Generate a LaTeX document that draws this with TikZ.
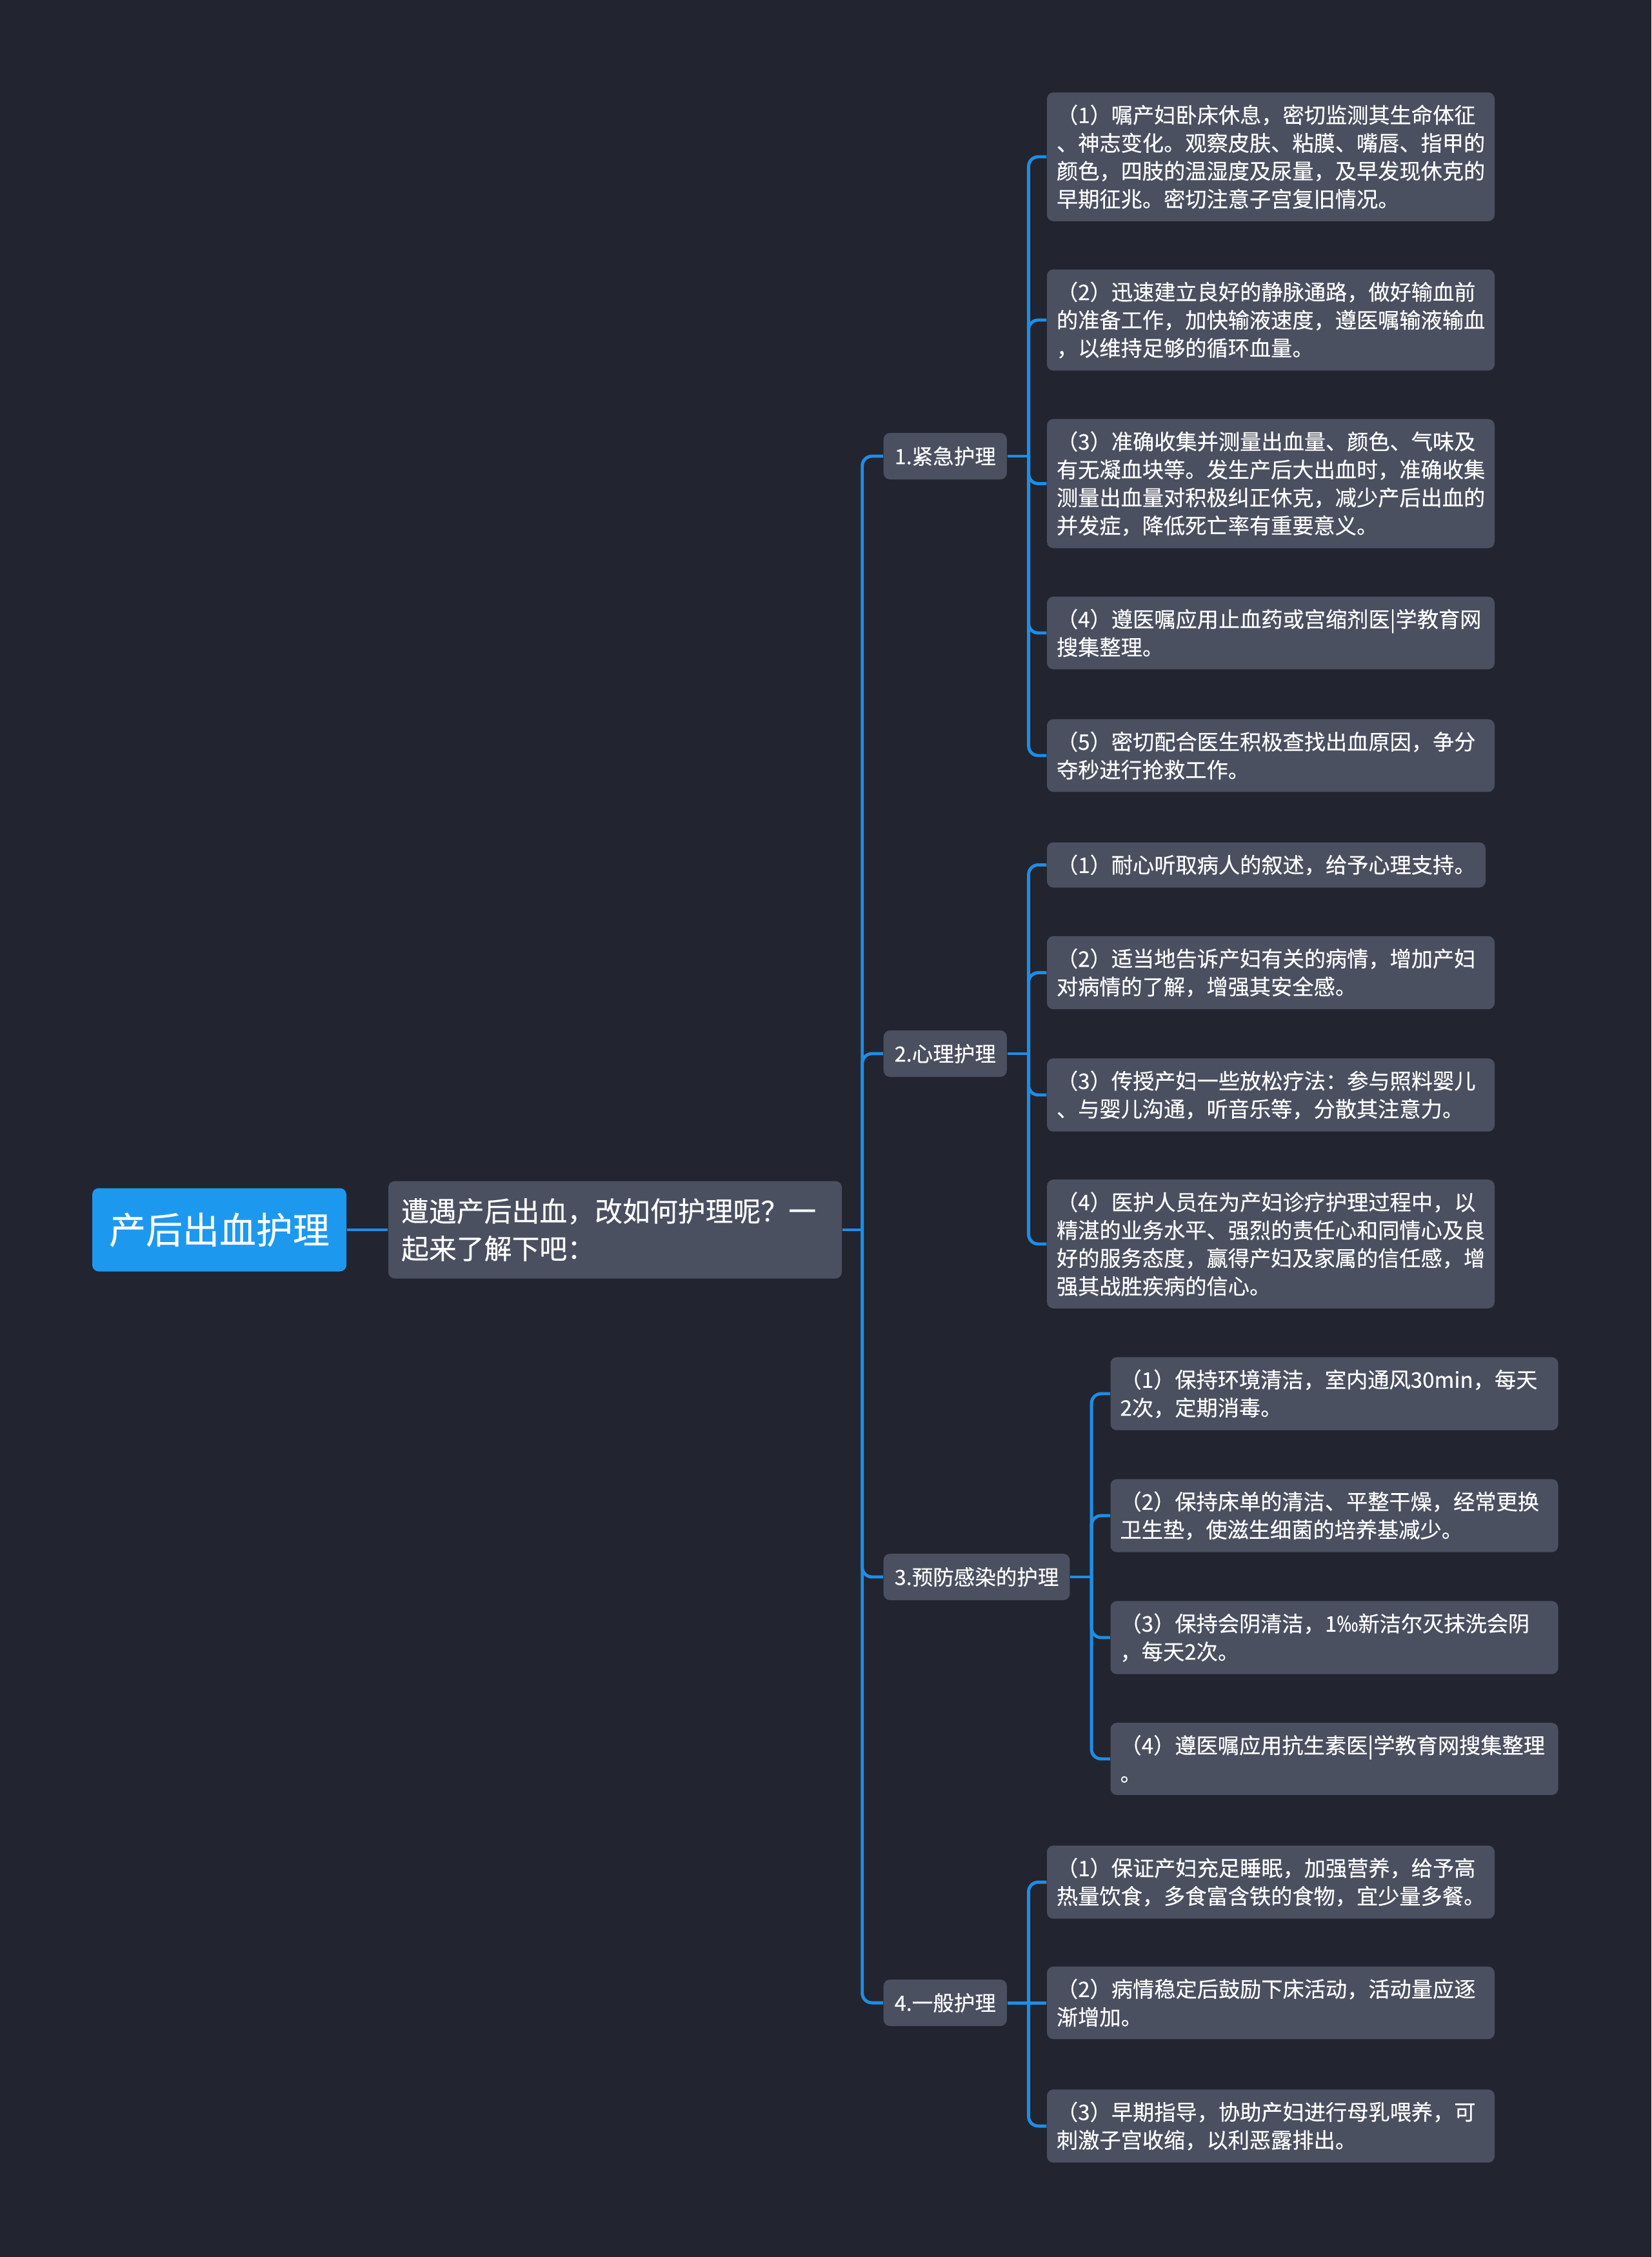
\documentclass[tikz,border=0pt]{standalone}
\usepackage{fontspec}
\setmainfont{Noto Sans CJK SC}[FakeBold=0.25]
\definecolor{bgdark}{HTML}{22252F}
\definecolor{boxgray}{HTML}{4A5060}
\definecolor{linkblue}{HTML}{1E8EE6}
\definecolor{rootblue}{HTML}{1D98EF}

\begin{document}
\begin{tikzpicture}[
  link/.style={draw=linkblue, line width=1.4pt, rounded corners=0.15cm},
  root/.style={fill=rootblue, text=white, rounded corners=0.1cm, minimum width=3.94cm, minimum height=1.29cm, inner sep=0pt, font=\fontsize{16.2}{20}\selectfont},
  intro/.style={fill=boxgray, text=white, rounded corners=0.1cm, text width=6.63cm, align=left, inner xsep=0.2cm, minimum height=1.51cm, font=\fontsize{12.2}{16.5}\selectfont},
  topic/.style={fill=boxgray, text=white, rounded corners=0.1cm, anchor=west, minimum height=0.72cm, inner xsep=0.17cm, font=\fontsize{9.25}{12.3}\selectfont},
  leaf/.style={fill=boxgray, text=white, rounded corners=0.1cm, text width=6.64cm, align=left, inner xsep=0.15cm, inner ysep=0.19cm, font=\fontsize{9.45}{12.35}\selectfont},
]
  \fill[bgdark] (0,0) rectangle (25.6,-34.98);
  \useasboundingbox (0,0) rectangle (25.6,-34.98);
  % centre
  \node[root] (root) at (3.40,-19.06) {产后出血护理};
  \node[intro] (intro) at (9.535,-19.06) {遭遇产后出血，改如何护理呢？一\\起来了解下吧：};
  \node[topic] (t1) at (13.69,-7.07) {1.紧急护理};
  \node[topic] (t2) at (13.69,-16.33) {2.心理护理};
  \node[topic] (t3) at (13.69,-24.44) {3.预防感染的护理};
  \node[topic] (t4) at (13.69,-31.04) {4.一般护理};
  % 1.紧急护理
  \node[leaf] (t1-1) at (19.70,-2.43) {（1）嘱产妇卧床休息，密切监测其生命体征\\、神志变化。观察皮肤、粘膜、嘴唇、指甲的\\颜色，四肢的温湿度及尿量，及早发现休克的\\早期征兆。密切注意子宫复旧情况。};
  \node[leaf] (t1-2) at (19.70,-4.96) {（2）迅速建立良好的静脉通路，做好输血前\\的准备工作，加快输液速度，遵医嘱输液输血\\，以维持足够的循环血量。};
  \node[leaf] (t1-3) at (19.70,-7.495) {（3）准确收集并测量出血量、颜色、气味及\\有无凝血块等。发生产后大出血时，准确收集\\测量出血量对积极纠正休克，减少产后出血的\\并发症，降低死亡率有重要意义。};
  \node[leaf] (t1-4) at (19.70,-9.81) {（4）遵医嘱应用止血药或宫缩剂医|学教育网\\搜集整理。};
  \node[leaf] (t1-5) at (19.70,-11.71) {（5）密切配合医生积极查找出血原因，争分\\夺秒进行抢救工作。};
  % 2.心理护理
  \node[leaf, text width=6.50cm] (t2-1) at (19.63,-13.405) {（1）耐心听取病人的叙述，给予心理支持。};
  \node[leaf] (t2-2) at (19.70,-15.075) {（2）适当地告诉产妇有关的病情，增加产妇\\对病情的了解，增强其安全感。};
  \node[leaf] (t2-3) at (19.70,-16.97) {（3）传授产妇一些放松疗法：参与照料婴儿\\、与婴儿沟通，听音乐等，分散其注意力。};
  \node[leaf] (t2-4) at (19.70,-19.28) {（4）医护人员在为产妇诊疗护理过程中，以\\精湛的业务水平、强烈的责任心和同情心及良\\好的服务态度，赢得产妇及家属的信任感，增\\强其战胜疾病的信心。};
  % 3.预防感染的护理
  \node[leaf] (t3-1) at (20.685,-21.60) {（1）保持环境清洁，室内通风30min，每天\\2次，定期消毒。};
  \node[leaf] (t3-2) at (20.685,-23.49) {（2）保持床单的清洁、平整干燥，经常更换\\卫生垫，使滋生细菌的培养基减少。};
  \node[leaf] (t3-3) at (20.685,-25.38) {（3）保持会阴清洁，1‰新洁尔灭抹洗会阴\\，每天2次。};
  \node[leaf] (t3-4) at (20.685,-27.26) {（4）遵医嘱应用抗生素医|学教育网搜集整理\\。};
  % 4.一般护理
  \node[leaf] (t4-1) at (19.70,-29.17) {（1）保证产妇充足睡眠，加强营养，给予高\\热量饮食，多食富含铁的食物，宜少量多餐。};
  \node[leaf] (t4-2) at (19.70,-31.04) {（2）病情稳定后鼓励下床活动，活动量应逐\\渐增加。};
  \node[leaf] (t4-3) at (19.70,-32.95) {（3）早期指导，协助产妇进行母乳喂养，可\\刺激子宫收缩，以利恶露排出。};
  % links
  \draw[link] (root.east) -- (intro.west);
  \draw[link] (intro.east) -- ++(0.31,0) coordinate (trunk);
  \foreach \t in {t1,t2,t3,t4} \draw[link] (trunk) |- (\t.west);
  \draw[link] (t1.east) -- ++(0.33,0) coordinate (t1j);
  \foreach \i in {1,...,5} \draw[link] (t1j) |- (t1-\i.west);
  \draw[link] (t2.east) -- ++(0.33,0) coordinate (t2j);
  \foreach \i in {1,...,4} \draw[link] (t2j) |- (t2-\i.west);
  \draw[link] (t3.east) -- ++(0.33,0) coordinate (t3j);
  \foreach \i in {1,...,4} \draw[link] (t3j) |- (t3-\i.west);
  \draw[link] (t4.east) -- ++(0.33,0) coordinate (t4j);
  \foreach \i in {1,3} \draw[link] (t4j) |- (t4-\i.west);
  \draw[link] (t4j) -- (t4-2.west);
\end{tikzpicture}
\end{document}
